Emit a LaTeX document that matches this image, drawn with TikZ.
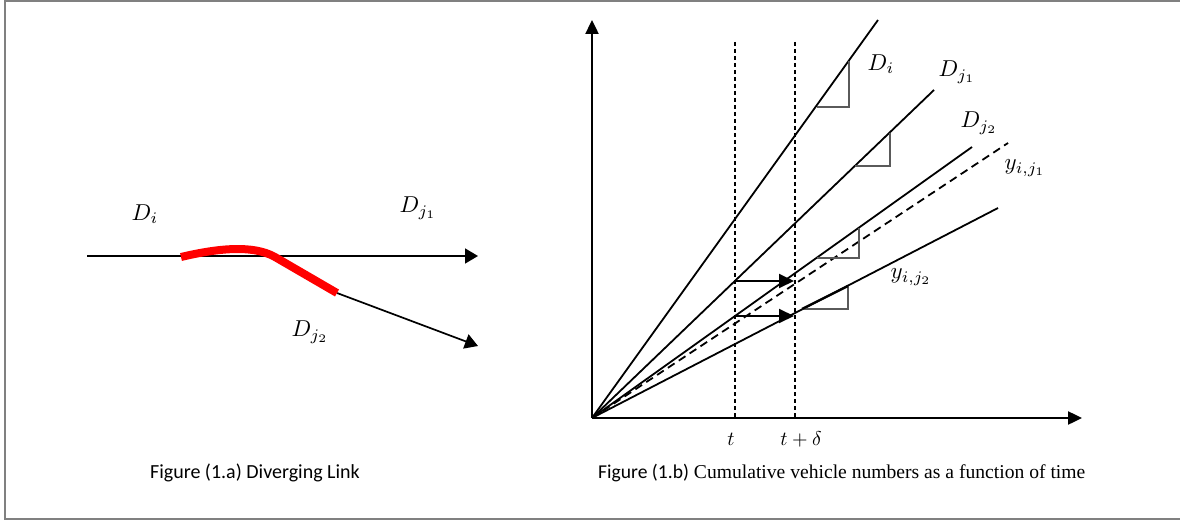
\documentclass[tikz,border=0pt]{standalone}
\usepackage{fontspec}
\newfontfamily\capa{Carlito}
\newfontfamily\capb{Liberation Serif}
\usetikzlibrary{arrows.meta}
\definecolor{framegray}{RGB}{128,128,128}
\definecolor{tri}{RGB}{90,90,90}
\newcommand{\mlab}[1]{\scalebox{2.3}{$#1$}}
\newcommand{\tlabel}[1]{\scalebox{2.0}{$#1$}}
\begin{document}
\begin{tikzpicture}[x=1pt,y=-1pt,
  ln/.style={line width=1.8pt},
  axis/.style={line width=2.4pt,-{Triangle[length=14pt,width=13pt]}},
  bigtip/.style={line width=1.7pt,-{Triangle[length=13pt,width=15pt]}},
  harr/.style={line width=1.9pt,-{Triangle[length=15pt,width=14pt]}},
  vdash/.style={line width=1.1pt,dash pattern=on 4pt off 3pt},
  ydash/.style={line width=1.8pt,dash pattern=on 8pt off 5pt},
  slope/.style={line width=1.2pt,draw=tri},
  lab/.style={inner sep=0pt},
  capl/.style={inner sep=0pt,font=\capa\fontsize{20}{24}\selectfont},
  capr/.style={inner sep=0pt,font=\capb\fontsize{19.6}{24}\selectfont}]
\useasboundingbox (0,0) rectangle (1180,521);
% frame
\draw[framegray,line width=2pt] (1181,1) -- (5,1) -- (5,519) -- (1181,519);

% ---------- left figure ----------
\coordinate (la) at (87,256);
\coordinate (lb) at (478,256);
\coordinate (rs) at (181,257);
\coordinate (rm) at (275,257);
\coordinate (re) at (337,293);
\coordinate (lc) at (478,346);
\draw[bigtip] (la) -- (lb);
\draw[bigtip] (re) -- (lc);
\draw[red,line width=8pt] (rs) .. controls (215,249) and (252,244) .. (rm) -- (re);
\node[lab] (ldi) at (145,214) {\mlab{D_i}};
\node[lab] (ldj1) at (418,208) {\mlab{D_{j_1}}};
\node[lab] (ldj2) at (310,332) {\mlab{D_{j_2}}};
\node[capl] (capa) at (255,473) {Figure (1.a) Diverging Link};

% ---------- right figure ----------
\coordinate (o) at (592,418);
\coordinate (ytop) at (592,20);
\coordinate (xend) at (1082,418);
\draw[axis] (o) -- (ytop);
\draw[axis] (o) -- (xend);
\coordinate (t1) at (735,42);
\coordinate (t1b) at (735,418);
\coordinate (t2) at (795,42);
\coordinate (t2b) at (795,418);
\draw[vdash] (t1) -- (t1b);
\draw[vdash] (t2) -- (t2b);

\coordinate (edi) at (878,20);
\coordinate (edj1) at (934,90);
\coordinate (edj2) at (972,147);
\coordinate (ey1) at (1008,143);
\coordinate (ey2) at (998,208);
\draw[ln] (o) -- (edi);
\draw[ln] (o) -- (edj1);
\draw[ln] (o) -- (edj2);
\draw[ydash] (o) -- (ey1);
\draw[ln] (o) -- (ey2);

% slope triangles
\draw[slope] (817,107) -- (849,107) -- (849,61);
\draw[slope] (855,166) -- (890,166) -- (890,133);
\draw[slope] (817,258) -- (859,258) -- (859,228);
\draw[slope] (802,309) -- (848,309) -- (848,286);
\draw[line width=2.4pt] (802,309) -- (848,286);

% horizontal arrows
\coordinate (a1s) at (735,281);
\coordinate (a1e) at (794,281);
\coordinate (a2s) at (735,316);
\coordinate (a2e) at (794,316);
\draw[harr] (a1s) -- (a1e);
\draw[harr] (a2s) -- (a2e);

\node[lab] (rdi) at (881,64) {\mlab{D_i}};
\node[lab] (rdj1) at (957,72) {\mlab{D_{j_1}}};
\node[lab] (rdj2) at (979,123) {\mlab{D_{j_2}}};
\node[lab] (ry1) at (1025,168) {\mlab{y_{i,j_1}}};
\node[lab] (ry2) at (911,277) {\mlab{y_{i,j_2}}};
\node[lab] (lt) at (731,439) {\tlabel{t}};
\node[lab] (ltd) at (801,439) {\tlabel{t+\delta}};
\node[capr,anchor=west] (capb) at (598,473) {{\capa Figure (1.b)} Cumulative vehicle numbers as a function of time};
\end{tikzpicture}
\end{document}
